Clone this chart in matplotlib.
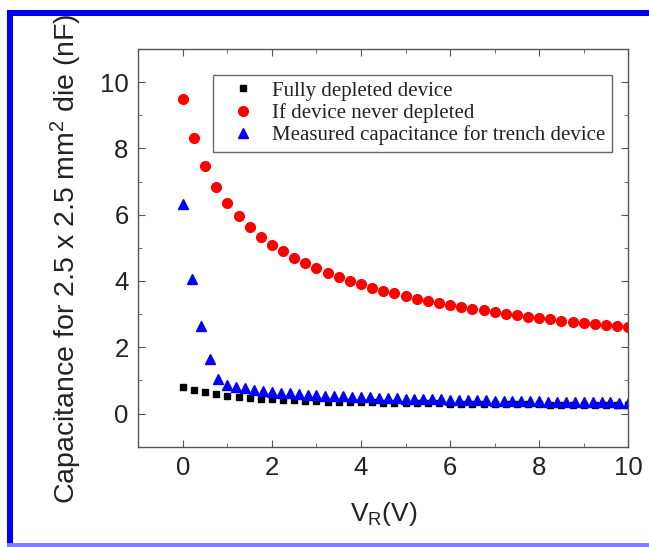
import numpy as np
import matplotlib
matplotlib.use("Agg")
import matplotlib.pyplot as plt
from matplotlib.patches import Rectangle

# ============================================================
# Data
# ============================================================

# fully depleted device, 0 ... 10 V in 0.25 V steps
v_full = np.arange(0, 10.01, 0.25)
c_full = [0.79, 0.70, 0.64, 0.58, 0.53, 0.50, 0.47, 0.45, 0.43, 0.41,
          0.40, 0.38, 0.37, 0.36, 0.355, 0.35, 0.34, 0.335, 0.33, 0.325,
          0.32, 0.315, 0.31, 0.305, 0.30, 0.30, 0.295, 0.29, 0.29, 0.285,
          0.28, 0.28, 0.275, 0.27, 0.27, 0.265, 0.265, 0.26, 0.26, 0.255,
          0.255]

# device never depleted, same voltages
v_never = np.arange(0, 10.01, 0.25)
c_never = [9.50, 8.30, 7.47, 6.85, 6.36, 5.96, 5.63, 5.34, 5.10, 4.89,
           4.70, 4.53, 4.38, 4.24, 4.12, 4.00, 3.90, 3.80, 3.71, 3.63,
           3.55, 3.47, 3.40, 3.34, 3.28, 3.22, 3.16, 3.11, 3.06, 3.01,
           2.97, 2.92, 2.88, 2.84, 2.80, 2.77, 2.73, 2.70, 2.66, 2.63,
           2.60]

# measured trench device, 0 ... 10 V in 0.2 V steps
v_meas = np.arange(0, 10.01, 0.2)
c_meas = [6.31, 4.06, 2.63, 1.64, 1.05, 0.86, 0.80, 0.76, 0.72, 0.68,
          0.65, 0.63, 0.61, 0.59, 0.57, 0.55, 0.54, 0.53, 0.52, 0.51,
          0.50, 0.49, 0.48, 0.47, 0.46, 0.45, 0.445, 0.44, 0.43, 0.425,
          0.42, 0.41, 0.405, 0.40, 0.395, 0.39, 0.385, 0.38, 0.375, 0.37,
          0.365, 0.36, 0.355, 0.35, 0.35, 0.345, 0.34, 0.34, 0.335, 0.33,
          0.33]

labels = ["Fully depleted device",
          "If device never depleted",
          "Measured capacitance for trench device"]

# ============================================================
# Figure
# ============================================================

plt.rcParams["font.family"] = ["Liberation Sans", "DejaVu Sans"]
plt.rcParams["mathtext.fontset"] = "custom"
plt.rcParams["mathtext.rm"] = "Liberation Sans"
plt.rcParams["mathtext.it"] = "Liberation Sans"

fig = plt.figure(figsize=(6.49, 5.47), dpi=100)
ax = fig.add_axes([0.2131, 0.1834, 0.7550, 0.7271])

ax.plot(v_full, c_full, ls="none", marker="s", ms=4.8, color="black",
        label=labels[0])
ax.plot(v_never, c_never, ls="none", marker="o", ms=7, color="#ff0000",
        label=labels[1])
ax.plot(v_meas, c_meas, ls="none", marker="^", ms=6.5, color="#0000ff",
        label=labels[2])

ax.set_xlim(-1, 10)
ax.set_ylim(-1, 11)
ax.set_xticks([0, 2, 4, 6, 8, 10])
ax.set_xticks([-1, 1, 3, 5, 7, 9], minor=True)
ax.set_yticks([0, 2, 4, 6, 8, 10])
ax.set_yticks([-1, 1, 3, 5, 7, 9], minor=True)

for side in ax.spines.values():
    side.set_color("#555555")
    side.set_linewidth(1.0)

ax.tick_params(which="both", direction="in", top=True, right=True,
               color="#555555", labelcolor="#222222")
ax.tick_params(which="major", length=5, labelsize=18.5, pad=7)
ax.tick_params(which="minor", length=3)

ax.set_xlabel(r"V$_\mathregular{R}$(V)", fontsize=19, color="#222222",
              labelpad=14)
ax.set_ylabel(r"Capacitance for 2.5 x 2.5 mm$^\mathregular{2}$ die (nF)",
              fontsize=20.5, color="#222222")
ax.yaxis.set_label_coords(-0.11, 0.472)

leg = ax.legend(loc="upper left", bbox_to_anchor=(0.152, 0.935),
                borderaxespad=0, frameon=True, fancybox=False,
                prop={"family": "Liberation Serif", "size": 15},
                numpoints=1, handlelength=2.3, handletextpad=0.25,
                borderpad=0.3, labelspacing=0.12)
leg.get_frame().set_edgecolor("#444444")
leg.get_frame().set_linewidth(1.0)
for t in leg.get_texts():
    t.set_color("#222222")

# blue frame round the picture
W, H = 649, 547
frame = [
    (7, 0, 6, 537, "#0000f0"),      # left
    (7, 531, 642, 6, "#0000f0"),    # top
    (7, 0, 642, 4, "#8080ff"),      # bottom
]
for x0, y0, w, h, col in frame:
    fig.patches.append(Rectangle((x0 / W, y0 / H), w / W, h / H,
                                 transform=fig.transFigure,
                                 color=col, lw=0, zorder=10))

fig.savefig("out.png", dpi=100)
